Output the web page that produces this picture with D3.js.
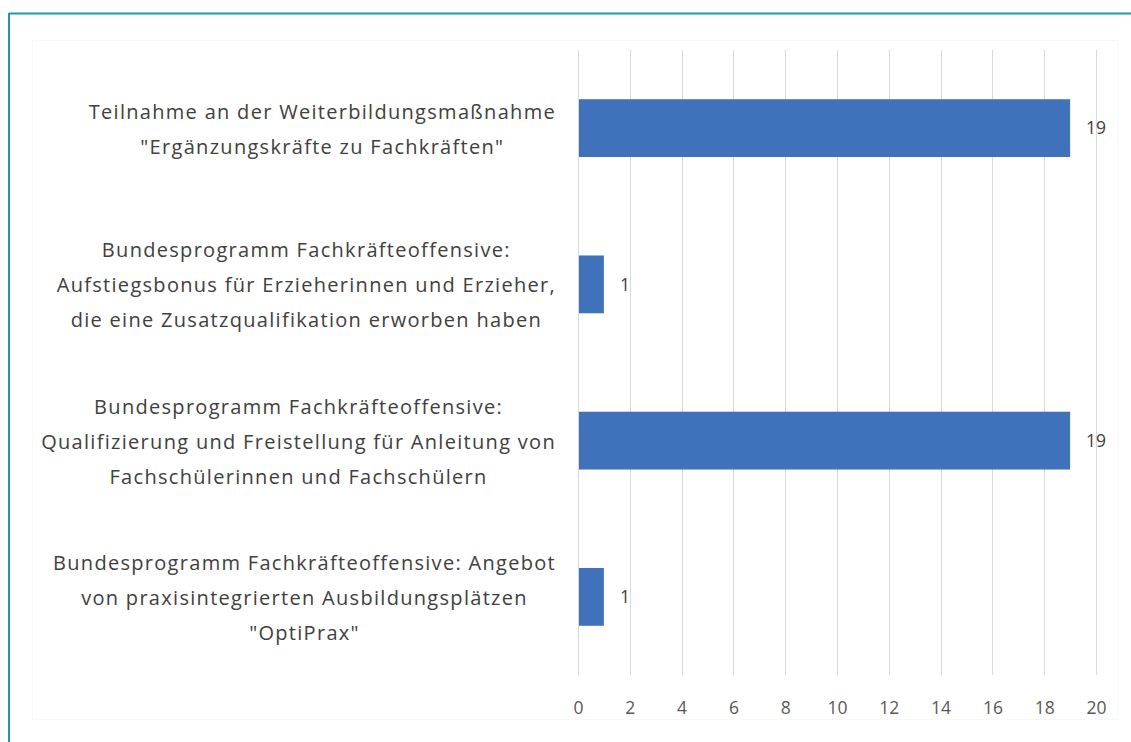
<!DOCTYPE html>
<html><head><meta charset="utf-8">
<script src="https://cdn.jsdelivr.net/npm/d3@7"></script>
<style>html,body{margin:0;padding:0;background:#fff;}svg{display:block;}</style>
</head><body>
<script>
const categories = [
  ["Teilnahme an der Weiterbildungsmaßnahme", "\"Ergänzungskräfte zu Fachkräften\""],
  ["Bundesprogramm Fachkräfteoffensive:", "Aufstiegsbonus für Erzieherinnen und Erzieher,", "die eine Zusatzqualifikation erworben haben"],
  ["Bundesprogramm Fachkräfteoffensive:", "Qualifizierung und Freistellung für Anleitung von", "Fachschülerinnen und Fachschülern"],
  ["Bundesprogramm Fachkräfteoffensive: Angebot", "von praxisintegrierten Ausbildungsplätzen", "\"OptiPrax\""]
];
const values = [19, 1, 19, 1];
const tickValues = [0, 2, 4, 6, 8, 10, 12, 14, 16, 18, 20];

const W = 1131, H = 742;
const FONT = "'Open Sans', Lato, sans-serif";
const svg = d3.select("body").append("svg").attr("width", W).attr("height", H);

svg.append("rect").attr("x", 0).attr("y", 0).attr("width", W).attr("height", H).attr("fill", "#fff");
svg.append("line").attr("x1", 9).attr("x2", W).attr("y1", 13.5).attr("y2", 13.5).attr("stroke", "#1f9a9c").attr("stroke-width", 2);
svg.append("line").attr("x1", 9).attr("x2", 9).attr("y1", 13).attr("y2", H).attr("stroke", "#1f9a9c").attr("stroke-width", 2);
svg.append("rect").attr("x", 32.5).attr("y", 40.5).attr("width", 1085).attr("height", 679).attr("fill", "none").attr("stroke", "#f8f8f8");

const x = d3.scaleLinear().domain([0, 20]).range([578, 1096]);
const ids = categories.map((d, i) => i);
const y = d3.scaleBand().domain(ids).range([50, 675]).paddingInner(0.63).paddingOuter(0.315);

svg.append("g").selectAll("line").data(tickValues).join("line")
  .attr("x1", d => Math.round(x(d)) + 0.5).attr("x2", d => Math.round(x(d)) + 0.5)
  .attr("y1", 50).attr("y2", 675).attr("stroke", "#d9d9d9").attr("stroke-width", 1);

const xAxis = svg.append("g").attr("transform", "translate(0,675)")
  .call(d3.axisBottom(x).tickValues(tickValues).tickSize(0).tickPadding(27));
xAxis.select(".domain").remove();
xAxis.selectAll("text").attr("font-family", FONT).attr("font-size", 17.5).attr("fill", "#595959");

svg.append("g").selectAll("rect").data(values).join("rect")
  .attr("x", x(0) + 1).attr("y", (d, i) => y(i))
  .attr("width", d => x(d) - x(0) - 1).attr("height", y.bandwidth())
  .attr("fill", "#4072bb");

svg.append("g").selectAll("text").data(values).join("text")
  .attr("x", d => x(d) + 16).attr("y", (d, i) => y(i) + y.bandwidth() / 2)
  .attr("dy", "0.35em").attr("font-family", FONT).attr("font-size", 17.5).attr("fill", "#404040")
  .text(d => d);

const lineH = 35;
const labG = svg.append("g");
categories.forEach((lines, i) => {
  const cy = y(i) + y.bandwidth() / 2;
  const g = labG.append("g");
  const texts = lines.map((ln, j) => g.append("text")
    .attr("font-family", FONT).attr("font-size", 20).attr("fill", "#404040")
    .attr("letter-spacing", 1.3)
    .attr("text-anchor", "middle")
    .attr("y", cy + 1 + (j - (lines.length - 1) / 2) * lineH)
    .attr("dy", "0.35em").text(ln));
  const maxW = d3.max(texts, t => t.node().getComputedTextLength());
  texts.forEach(t => t.attr("x", 556 - maxW / 2));
});
</script>
</body></html>
